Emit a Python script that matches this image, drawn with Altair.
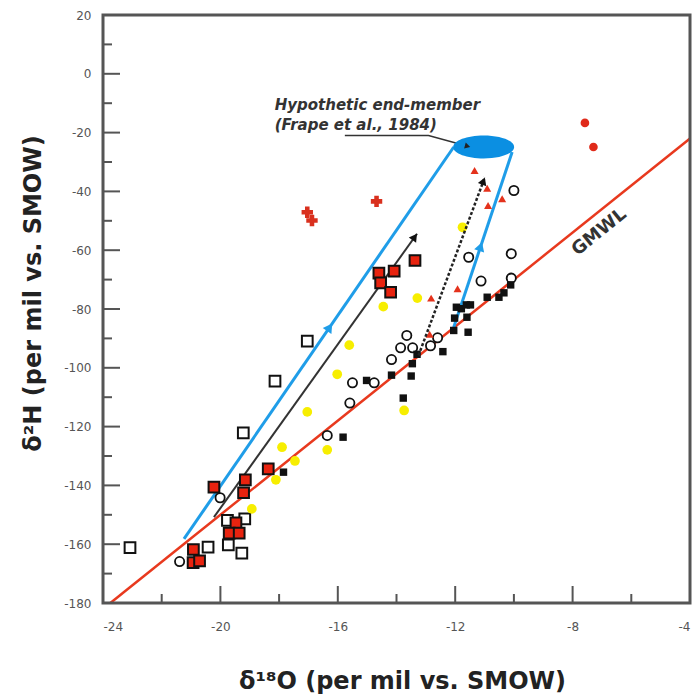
import math
import altair as alt
import pandas as pd

# plot area in pixels and axis domains
W, H = 587, 588
X_DOM = [-24, -4]
Y_DOM = [-180, 20]
SX = W / (X_DOM[1] - X_DOM[0])
SY = H / (Y_DOM[1] - Y_DOM[0])

# ---- sample groups (d18O, d2H) ----
open_sq_x = [-23.08, -20.42, -19.76, -19.17, -19.73, -19.27, -19.22, -18.14, -17.04]
open_sq_y = [-161.2, -161.0, -151.9, -151.4, -160.2, -163.0, -122.1, -104.5, -90.9]

red_sq_x = [-20.22, -19.15, -19.21, -18.37, -19.47, -19.70, -19.36, -20.92, -20.93, -20.71,
            -14.60, -14.08, -14.54, -14.20, -13.37]
red_sq_y = [-140.6, -138.1, -142.5, -134.4, -152.7, -156.2, -156.2, -161.8, -166.3, -165.7,
            -67.8, -67.1, -71.1, -74.3, -63.5]

open_ci_x = [-21.39, -20.01, -16.36, -15.59, -15.50, -14.76, -14.17, -13.86, -13.45, -13.65,
             -12.60, -12.84, -11.54, -11.12, -10.09, -10.09, -10.00]
open_ci_y = [-165.9, -144.2, -123.0, -112.0, -105.1, -105.1, -97.2, -93.2, -93.2, -89.0,
             -89.8, -92.5, -62.4, -70.5, -61.2, -69.5, -39.7]

black_sq_x = [-17.85, -15.82, -15.02, -14.17, -13.77, -13.50, -13.46, -13.30, -12.42,
              -12.05, -11.56, -12.02, -11.60, -11.96, -11.79, -11.62, -11.48,
              -10.91, -10.51, -10.34, -10.11]
black_sq_y = [-135.5, -123.6, -104.3, -102.5, -110.3, -102.8, -98.6, -95.4, -94.5,
              -87.3, -87.9, -83.1, -82.8, -79.4, -79.9, -78.6, -78.6,
              -76.0, -76.0, -74.5, -71.8]

yellow_x = [-17.90, -17.46, -18.11, -18.93, -17.04, -16.02, -15.61, -16.36, -14.45, -13.29,
            -13.74, -11.75]
yellow_y = [-127.0, -131.7, -138.1, -148.0, -115.0, -102.2, -92.3, -127.9, -79.2, -76.3,
            -114.5, -52.2]

red_tri_x = [-12.82, -11.92, -12.87, -11.34, -10.91, -10.88, -10.40]
red_tri_y = [-76.3, -73.1, -88.6, -32.9, -38.9, -44.8, -42.5]

red_cross_x = [-17.04, -16.88, -14.68]
red_cross_y = [-47.1, -49.9, -43.4]

red_dot_x = [-7.58, -7.29]
red_dot_y = [-16.7, -24.9]

# ---- lines ----
gmwl_x = [-23.75, -4.0]          # d2H = 8 d18O + 10
gmwl_y = [-180.0, -22.0]

blue_a_x = [-21.24, -12.05]
blue_a_y = [-158.2, -24.9]
blue_b_x = [-12.05, -10.06]
blue_b_y = [-86.2, -26.6]

mix_x = [-20.22, -13.30]
mix_y = [-150.8, -54.4]

dash_x = [-13.25, -10.99]
dash_y = [-95.8, -35.2]

note_x = [-15.76, -12.91, -11.48]
note_y = [-21.0, -21.0, -24.9]

end_member_x = [-11.03]
end_member_y = [-24.9]

x_major = [-24, -20, -16, -12, -8, -4]
x_minor = [-22, -18, -14, -10, -6]
y_major = [-180, -160, -140, -120, -100, -80, -60, -40, -20, 0, 20]
y_minor = [-170, -150, -130, -110, -90, -70, -50, -30, -10, 10]

xs = alt.Scale(domain=X_DOM, nice=False, zero=False)
ys = alt.Scale(domain=Y_DOM, nice=False, zero=False)

x_axis = alt.Axis(values=x_major, grid=False, ticks=False, domain=False,
                  labelExpr="'' + datum.value", labelFont="DejaVu Sans", labelFontSize=12,
                  labelColor="#555", labelPadding=18,
                  title="δ¹⁸O (per mil vs. SMOW)", titleFont="DejaVu Sans",
                  titleFontSize=24, titleFontWeight="bold", titleColor="#222",
                  titleX=299, titleY=78, titleBaseline="middle", titleAlign="center")
y_axis = alt.Axis(values=y_major, grid=False, ticks=False, domain=False,
                  labelExpr="'' + datum.value", labelFont="DejaVu Sans", labelFontSize=12,
                  labelColor="#555", labelPadding=12,
                  title="δ²H (per mil vs. SMOW)", titleFont="DejaVu Sans",
                  titleFontSize=24, titleFontWeight="bold", titleColor="#222",
                  titleX=-70, titleY=278, titleAngle=270,
                  titleBaseline="middle", titleAlign="center")


def pts(xv, yv):
    return pd.DataFrame({"x": xv, "y": yv})


def enc(base):
    return base.encode(x=alt.X("x:Q", scale=xs, axis=x_axis),
                       y=alt.Y("y:Q", scale=ys, axis=y_axis))


def seg(xv, yv):
    return pd.DataFrame({"x": xv, "y": yv, "o": list(range(len(xv)))})


def line(xv, yv, **kw):
    return alt.Chart(seg(xv, yv)).mark_line(**kw).encode(
        x=alt.X("x:Q", scale=xs, axis=x_axis),
        y=alt.Y("y:Q", scale=ys, axis=y_axis),
        order="o:Q")


def heading(x0, y0, x1, y1):
    return (math.degrees(math.atan2((x1 - x0) * SX, (y1 - y0) * SY)) + 360) % 360


def head_at(x0, y0, x1, y1, t, back=0.0):
    dxp, dyp = (x1 - x0) * SX, (y1 - y0) * SY
    n = math.hypot(dxp, dyp)
    px = x0 + (x1 - x0) * t - dxp / n * back / SX
    py = y0 + (y1 - y0) * t - dyp / n * back / SY
    return px, py, heading(x0, y0, x1, y1)


def heads(spec, color, size):
    rows = [head_at(*s) for s in spec]
    df = pd.DataFrame(rows, columns=["x", "y", "a"])
    return alt.Chart(df).mark_point(shape="triangle-up", filled=True, color=color,
                                    size=size, opacity=1).encode(
        x=alt.X("x:Q", scale=xs, axis=x_axis),
        y=alt.Y("y:Q", scale=ys, axis=y_axis),
        angle=alt.Angle("a:Q", scale=None))


gmwl = line(gmwl_x, gmwl_y, color="#e8391e", strokeWidth=2.5)
blue_a = line(blue_a_x, blue_a_y, color="#1f9de8", strokeWidth=3)
blue_b = line(blue_b_x, blue_b_y, color="#1f9de8", strokeWidth=3)
mix = line(mix_x, mix_y, color="#333", strokeWidth=2)
dash = line(dash_x, dash_y, color="#222", strokeWidth=2.5, strokeDash=[3, 2])
note = line(note_x, note_y, color="#333", strokeWidth=1.5)

ellipse_path = ("M -1 0 C -1 -0.208 -0.552 -0.377 0 -0.377 C 0.552 -0.377 1 -0.208 1 0 "
                "C 1 0.208 0.552 0.377 0 0.377 C -0.552 0.377 -1 0.208 -1 0 Z")
end_member = enc(alt.Chart(pts(end_member_x, end_member_y)).mark_point(
    shape=ellipse_path, filled=True, color="#0b8fe2", size=3721, opacity=1))

open_sq = enc(alt.Chart(pts(open_sq_x, open_sq_y)).mark_point(
    shape="square", filled=True, fill="white", stroke="#111", strokeWidth=2, size=115, opacity=1))
red_sq = enc(alt.Chart(pts(red_sq_x, red_sq_y)).mark_point(
    shape="square", filled=True, fill="#e8230f", stroke="#111", strokeWidth=2, size=115, opacity=1))
open_ci = enc(alt.Chart(pts(open_ci_x, open_ci_y)).mark_point(
    shape="circle", filled=True, fill="white", stroke="#111", strokeWidth=1.8, size=85, opacity=1))
black_sq = enc(alt.Chart(pts(black_sq_x, black_sq_y)).mark_point(
    shape="square", filled=True, color="#111", size=55, opacity=1))
yellow = enc(alt.Chart(pts(yellow_x, yellow_y)).mark_point(
    shape="circle", filled=True, color="#f7ee00", size=95, opacity=1))
red_tri = enc(alt.Chart(pts(red_tri_x, red_tri_y)).mark_point(
    shape="triangle-up", filled=True, color="#e4321c", size=65, opacity=1))
red_cross = enc(alt.Chart(pts(red_cross_x, red_cross_y)).mark_point(
    shape="cross", filled=True, color="#d9301e", size=130, opacity=1))
red_dot = enc(alt.Chart(pts(red_dot_x, red_dot_y)).mark_point(
    shape="circle", filled=True, color="#e02a1a", size=75, opacity=1))

blue_heads = heads([(blue_a_x[0], blue_a_y[0], blue_a_x[1], blue_a_y[1], 0.54, 0.0),
                    (blue_b_x[0], blue_b_y[0], blue_b_x[1], blue_b_y[1], 0.46, 0.0)],
                   "#1f9de8", 110)
black_heads = heads([(mix_x[0], mix_y[0], mix_x[1], mix_y[1], 1.0, 4.0),
                     (dash_x[0], dash_y[0], dash_x[1], dash_y[1], 1.0, 4.0)],
                    "#111", 80)
note_head = heads([(note_x[1], note_y[1], note_x[2], note_y[2], 1.0, 3.0)], "#222", 40)

note_text = alt.Chart(pd.DataFrame({
    "x": [-18.15, -18.15], "y": [-10.5, -17.3],
    "t": ["Hypothetic end-member", "(Frape et al., 1984)"]})).mark_text(
    align="left", baseline="middle", font="DejaVu Sans", fontSize=15,
    fontWeight="bold", fontStyle="italic", color="#333").encode(
    x=alt.X("x:Q", scale=xs, axis=x_axis), y=alt.Y("y:Q", scale=ys, axis=y_axis), text="t:N")

gmwl_text = alt.Chart(pd.DataFrame({"x": [-7.09], "y": [-53.9], "t": ["GMWL"]})).mark_text(
    align="center", baseline="middle", font="DejaVu Sans", fontSize=18, fontWeight="bold",
    color="#333", angle=321).encode(
    x=alt.X("x:Q", scale=xs, axis=x_axis), y=alt.Y("y:Q", scale=ys, axis=y_axis), text="t:N")


# inward tick marks along the bottom and left frame
def xticks(vals, length):
    return alt.Chart(pd.DataFrame({"x": vals})).mark_rule(color="#555", strokeWidth=2).encode(
        x=alt.X("x:Q", scale=xs, axis=x_axis), y=alt.value(H), y2=alt.value(H - length))


def yticks(vals, length):
    return alt.Chart(pd.DataFrame({"y": vals})).mark_rule(color="#555", strokeWidth=2).encode(
        y=alt.Y("y:Q", scale=ys, axis=y_axis), x=alt.value(0), x2=alt.value(length))


# plot frame
frame = alt.Chart(pd.DataFrame({"k": [0]})).mark_rect(
    fill=None, fillOpacity=0, stroke="#555", strokeWidth=3).encode(
    x=alt.value(0), x2=alt.value(W), y=alt.value(0), y2=alt.value(H))

chart = alt.layer(
    xticks(x_major[1:-1], 17), xticks(x_minor, 9), yticks(y_major[1:-1], 17), yticks(y_minor, 9),
    gmwl, blue_a, blue_b, mix,
    open_sq, red_sq, open_ci, black_sq, yellow, red_tri, red_cross, red_dot,
    dash, note, end_member, blue_heads, black_heads, note_head,
    note_text, gmwl_text, frame,
).properties(
    width=W, height=H,
    autosize=alt.AutoSizeParams(type="none"),
    padding={"left": 103, "top": 15, "right": 6, "bottom": 94},
).configure(background="white").configure_view(stroke=None)

chart.save("out.html", embed_options={"renderer": "svg", "actions": False})
